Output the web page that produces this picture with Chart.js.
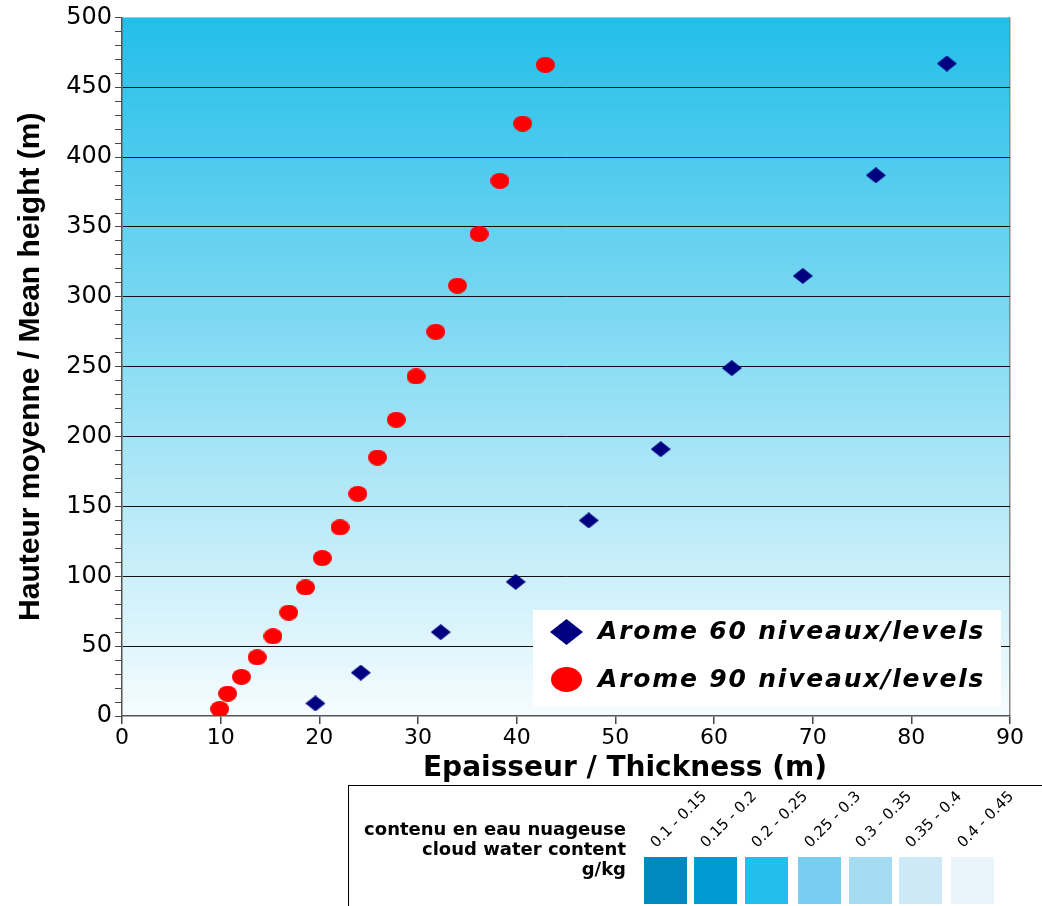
<!DOCTYPE html>
<html>
<head>
<meta charset="utf-8">
<script src="https://cdn.jsdelivr.net/npm/chart.js@4"></script>
<style>
  body { margin: 0; background: #fff; font-family: "DejaVu Sans", Arial, sans-serif; }
  #wrap { position: relative; width: 1042px; height: 906px; }
  #grafica { position: absolute; left: 0; top: 0; }
  #cuadro { position: absolute; left: 348px; top: 785px; width: 700px; height: 130px;
            border-left: 1px solid #000; border-top: 1px solid #000; }
  .txt { position: absolute; right: 423px; font-weight: bold; font-size: 18px; color: #000; white-space: nowrap; }
  .caja { position: absolute; top: 71px; width: 43px; height: 47px; }
  .rot { position: absolute; font-size: 15px; white-space: nowrap; transform-origin: left bottom;
         transform: rotate(-45deg); color: #000; }
</style>
</head>
<body>
<div id="wrap">
  <canvas id="grafica" width="1042" height="906"></canvas>
  <div id="cuadro"></div>
</div>
<script>
// Datos
const espesor60 = [19.6, 24.2, 32.3, 39.9, 47.3, 54.6, 61.8, 69.0, 76.4, 83.6];
const altura60  = [9, 31, 60, 96, 140, 191, 249, 315, 387, 467];
const espesor90 = [9.9, 10.7, 12.1, 13.7, 15.3, 16.9, 18.6, 20.3, 22.1, 23.9, 25.9, 27.8, 29.8, 31.8, 34.0, 36.2, 38.3, 40.6, 42.9];
const altura90  = [5, 16, 28, 42, 57, 74, 92, 113, 135, 159, 185, 212, 243, 275, 308, 345, 383, 424, 466];
const etiquetas = ['Arome 60 niveaux/levels', 'Arome 90 niveaux/levels'];
const clases = ['0.1 - 0.15', '0.15 - 0.2', '0.2 - 0.25', '0.25 - 0.3', '0.3 - 0.35', '0.35 - 0.4', '0.4 - 0.45'];
const coloresClases = ['#0089c0', '#0099d0', '#22bfeb', '#78cdf0', '#a4dcf3', '#cde9f7', '#eaf5fb'];

const fuente = '"DejaVu Sans", Arial, sans-serif';
const fuenteTitulo = '"Liberation Sans", Arial, sans-serif';
const tituloX = 'Epaisseur / Thickness (m)';

// cuadro de contenido en eau
const cuadro = document.getElementById('cuadro');
['contenu en eau nuageuse', 'cloud water content', 'g/kg'].forEach((t, i) => {
    const d = document.createElement('div');
    d.className = 'txt';
    d.style.top = (32 + i * 20) + 'px';
    d.textContent = t;
    cuadro.appendChild(d);
});
const posX = [295, 345, 396, 449, 500, 550, 602];
clases.forEach((c, i) => {
    const b = document.createElement('div');
    b.className = 'caja';
    b.style.left = posX[i] + 'px';
    b.style.background = coloresClases[i];
    cuadro.appendChild(b);
    const r = document.createElement('div');
    r.className = 'rot';
    r.style.left = (posX[i] + 15) + 'px';
    r.style.top = '47px';
    r.textContent = c;
    cuadro.appendChild(r);
});

// marcadores (elipse y rombo algo aplanados como en el original)
function marcador(tipo, w, h, color) {
    const c = document.createElement('canvas');
    c.width = w; c.height = h;
    const x = c.getContext('2d');
    x.fillStyle = color;
    x.beginPath();
    if (tipo === 'elipse') {
        x.ellipse(w / 2, h / 2, w / 2, h / 2, 0, 0, Math.PI * 2);
    } else {
        x.moveTo(0, h / 2); x.lineTo(w / 2, 0); x.lineTo(w, h / 2); x.lineTo(w / 2, h);
        x.closePath();
    }
    x.fill();
    return c;
}
const rombo = marcador('rombo', 20, 16, '#000080');
const elipse = marcador('elipse', 19, 16, '#ff0000');

const fondo = {
    id: 'fondo',
    beforeDraw(chart) {
        const { ctx, chartArea: a } = chart;
        const g = ctx.createLinearGradient(0, a.top, 0, a.bottom);
        g.addColorStop(0, 'rgb(34,190,233)');
        g.addColorStop(1, 'rgb(246,252,254)');
        ctx.save();
        ctx.fillStyle = g;
        ctx.fillRect(a.left, a.top, a.right - a.left, a.bottom - a.top);
        ctx.restore();
    }
};

const leyenda = {
    id: 'leyenda',
    afterDatasetsDraw(chart) {
        const { ctx } = chart;
        ctx.save();
        ctx.fillStyle = '#fff';
        ctx.fillRect(533, 610, 468, 96);
        ctx.drawImage(marcador('rombo', 33, 26, '#000080'), 550, 619);
        ctx.drawImage(marcador('elipse', 31, 25, '#ff0000'), 551, 667);
        ctx.fillStyle = '#000';
        ctx.font = 'italic bold 25px ' + fuente;
        ctx.letterSpacing = '1.8px';
        ctx.textBaseline = 'middle';
        ctx.fillText(etiquetas[0], 598, 632);
        ctx.fillText(etiquetas[1], 598, 680);
        ctx.restore();
    },
    afterDraw(chart) {
        // título del eje x, algo desplazado a la derecha como en el original
        const { ctx } = chart;
        ctx.save();
        ctx.fillStyle = '#000';
        ctx.font = 'bold 28px ' + fuente;
        ctx.textAlign = 'center';
        ctx.textBaseline = 'middle';
        ctx.fillText(tituloX, 625, 769);
        ctx.restore();
    }
};

let ctx = document.getElementById('grafica').getContext('2d');
let miGrafica = new Chart(ctx, {
    type: 'scatter',
    data: {
        datasets: [
            {
                label: etiquetas[0],
                data: espesor60.map((x, i) => ({ x: x, y: altura60[i] })),
                pointStyle: rombo,
                backgroundColor: '#000080'
            },
            {
                label: etiquetas[1],
                data: espesor90.map((x, i) => ({ x: x, y: altura90[i] })),
                pointStyle: elipse,
                backgroundColor: '#ff0000'
            }
        ]
    },
    options: {
        responsive: false,
        animation: false,
        layout: { padding: { left: 0, top: 17, right: 32, bottom: 120 } },
        plugins: { legend: { display: false }, tooltip: { enabled: false } },
        scales: {
            x: {
                type: 'linear', min: 0, max: 90,
                border: { color: '#555', width: 1.5 },
                grid: {
                    drawOnChartArea: true,
                    color: c => c.tick && c.tick.value === 90 ? '#888' : 'transparent',
                    tickColor: '#444', tickLength: 8, lineWidth: 1.5
                },
                ticks: { stepSize: 10, color: '#000', font: { size: 22, family: fuente }, padding: 1 },
                title: { display: false },
                afterFit: s => { s.height = 70; }
            },
            y: {
                type: 'linear', min: 0, max: 500,
                border: { color: '#555', width: 1.5 },
                grid: {
                    color: c => c.tick && c.tick.value % 50 === 0 && c.tick.value > 0 && c.tick.value < 500 ? '#111' : 'transparent',
                    tickColor: '#444', tickLength: 7, lineWidth: 1
                },
                ticks: {
                    stepSize: 10, autoSkip: false, color: '#000',
                    font: { size: 24, family: fuente }, padding: 3,
                    callback: v => v % 50 === 0 ? v : ''
                },
                title: { display: true, text: 'Hauteur moyenne / Mean height (m)', color: '#000',
                         font: { size: 30, weight: 'bold', family: fuenteTitulo }, padding: { top: 13, bottom: 0 } },
                afterFit: s => { s.width = 122; }
            }
        }
    },
    plugins: [fondo, leyenda]
});
</script>
</body>
</html>
